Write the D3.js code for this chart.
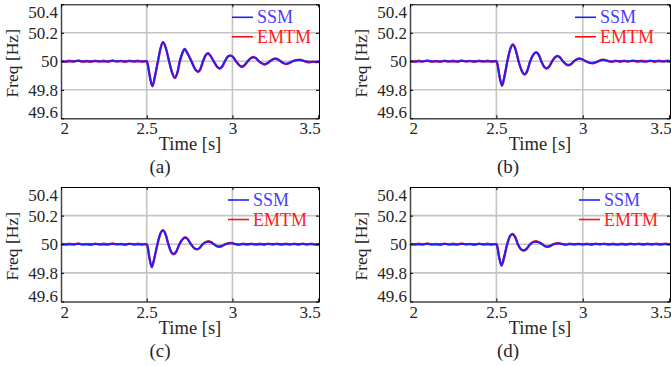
<!DOCTYPE html>
<html>
<head>
<meta charset="utf-8">
<script src="https://cdn.jsdelivr.net/npm/d3@7"></script>
<style>
  body { margin: 0; background: #fff; }
  svg text { font-family: "Liberation Serif", serif !important; }
</style>
</head>
<body>
<div id="chart"></div>
<script>
// ---- data ----
const xTicks = [2, 2.5, 3, 3.5]
const yTicks = [49.6, 49.8, 50, 50.2, 50.4]
const captions = ["(a)", "(b)", "(c)", "(d)"]
const seriesNames = ["SSM", "EMTM"]

// steady state before the event at 2.5 s (same in all four cases)
const ssmPre = [[2.0,50.001],[2.05,49.999],[2.1,50.002],[2.15,49.999],[2.2,50.001],[2.25,49.998],[2.3,50.002],[2.35,50.0],[2.4,50.001],[2.45,49.999]]
const emtmPre = [[2.0,50.004],[2.025,49.997],[2.05,50.005],[2.075,49.998],[2.1,50.006],[2.125,49.997],[2.15,50.003],[2.175,49.996],[2.2,50.005],[2.225,49.998],[2.25,50.004],[2.275,49.997],[2.3,50.006],[2.325,49.998],[2.35,50.003],[2.375,49.996],[2.4,50.005],[2.425,49.998],[2.45,50.004],[2.475,49.997]]

const ssmA = [[2.5,50.0],[2.505,49.985],[2.517,49.9],[2.533,49.828],[2.548,49.9],[2.565,50.0],[2.58,50.09],[2.595,50.135],[2.612,50.09],[2.63,50.0],[2.648,49.92],[2.663,49.886],[2.678,49.92],[2.692,50.0],[2.708,50.06],[2.721,50.088],[2.735,50.06],[2.76,50.0],[2.782,49.945],[2.798,49.928],[2.812,49.945],[2.827,50.0],[2.842,50.04],[2.856,50.057],[2.87,50.04],[2.89,50.0],[2.91,49.962],[2.924,49.952],[2.938,49.962],[2.955,50.0],[2.972,50.032],[2.987,50.041],[3.002,50.032],[3.02,50.0],[3.04,49.972],[3.054,49.964],[3.068,49.972],[3.088,50.0],[3.107,50.022],[3.122,50.029],[3.137,50.022],[3.154,50.0],[3.172,49.985],[3.186,49.98],[3.2,49.985],[3.218,50.0],[3.236,50.014],[3.25,50.018],[3.265,50.014],[3.28,50.0],[3.298,49.987],[3.312,49.983],[3.328,49.988],[3.35,50.0],[3.37,50.008],[3.39,50.01],[3.41,50.006],[3.44,49.998],[3.47,49.996],[3.51,50.0]]
const emtmA = [[2.5,50.003],[2.506,49.98],[2.518,49.895],[2.534,49.824],[2.549,49.897],[2.566,50.0],[2.581,50.092],[2.596,50.133],[2.613,50.088],[2.631,50.0],[2.649,49.918],[2.664,49.882],[2.679,49.918],[2.694,50.0],[2.709,50.058],[2.722,50.086],[2.737,50.06],[2.762,50.0],[2.784,49.943],[2.8,49.925],[2.814,49.944],[2.829,50.0],[2.844,50.042],[2.858,50.058],[2.872,50.04],[2.892,50.0],[2.912,49.96],[2.926,49.948],[2.94,49.96],[2.957,50.0],[2.974,50.034],[2.989,50.04],[3.004,50.03],[3.022,50.0],[3.042,49.97],[3.056,49.96],[3.07,49.97],[3.09,50.0],[3.109,50.024],[3.124,50.03],[3.139,50.02],[3.156,50.0],[3.174,49.984],[3.188,49.977],[3.202,49.984],[3.22,50.0],[3.238,50.016],[3.252,50.02],[3.267,50.012],[3.282,50.0],[3.3,49.986],[3.314,49.98],[3.33,49.986],[3.352,50.0],[3.372,50.009],[3.392,50.012],[3.412,50.004],[3.43,49.996],[3.45,49.992],[3.47,49.998],[3.49,49.994],[3.51,49.998]]

const ssmB = [[2.5,50.0],[2.506,49.985],[2.517,49.9],[2.532,49.832],[2.547,49.9],[2.563,50.0],[2.58,50.085],[2.595,50.116],[2.611,50.08],[2.628,50.0],[2.648,49.93],[2.662,49.91],[2.677,49.93],[2.695,50.0],[2.713,50.045],[2.729,50.061],[2.745,50.045],[2.76,50.0],[2.776,49.962],[2.79,49.952],[2.804,49.962],[2.822,50.0],[2.84,50.028],[2.853,50.035],[2.867,50.028],[2.885,50.0],[2.903,49.98],[2.916,49.975],[2.93,49.98],[2.948,50.0],[2.966,50.014],[2.981,50.018],[2.996,50.014],[3.018,50.0],[3.04,49.99],[3.054,49.988],[3.07,49.991],[3.09,50.0],[3.105,50.008],[3.12,50.01],[3.14,50.005],[3.17,49.998],[3.2,50.002],[3.25,50.0],[3.3,50.003],[3.35,49.999],[3.4,50.002],[3.45,50.0],[3.51,50.001]]
const emtmB = [[2.5,50.003],[2.506,49.98],[2.518,49.896],[2.533,49.828],[2.548,49.897],[2.564,50.0],[2.581,50.088],[2.596,50.118],[2.612,50.082],[2.629,50.0],[2.649,49.927],[2.663,49.906],[2.678,49.928],[2.696,50.0],[2.714,50.047],[2.73,50.064],[2.746,50.046],[2.761,50.0],[2.777,49.96],[2.791,49.949],[2.805,49.96],[2.823,50.0],[2.841,50.03],[2.854,50.038],[2.868,50.028],[2.886,50.0],[2.904,49.978],[2.917,49.972],[2.931,49.978],[2.949,50.0],[2.967,50.016],[2.982,50.021],[2.997,50.014],[3.019,50.0],[3.041,49.988],[3.055,49.985],[3.071,49.99],[3.091,50.0],[3.106,50.01],[3.121,50.012],[3.14,50.004],[3.165,49.996],[3.19,50.004],[3.215,49.997],[3.24,50.005],[3.265,49.998],[3.29,50.004],[3.315,49.997],[3.34,50.005],[3.365,49.998],[3.39,50.004],[3.415,49.996],[3.44,50.004],[3.465,49.998],[3.49,50.005],[3.51,50.0]]

const ssmC = [[2.5,50.0],[2.505,49.985],[2.515,49.91],[2.529,49.843],[2.545,49.91],[2.562,50.0],[2.58,50.075],[2.594,50.096],[2.609,50.07],[2.626,50.0],[2.643,49.945],[2.656,49.933],[2.67,49.945],[2.69,50.0],[2.71,50.036],[2.724,50.046],[2.738,50.036],[2.758,50.0],[2.778,49.972],[2.792,49.967],[2.806,49.972],[2.826,50.0],[2.846,50.015],[2.861,50.018],[2.875,50.014],[2.892,50.0],[2.91,49.987],[2.923,49.984],[2.937,49.988],[2.958,50.0],[2.976,50.006],[2.991,50.007],[3.01,50.004],[3.04,49.999],[3.08,50.001],[3.15,49.999],[3.2,50.001],[3.3,50.0],[3.4,50.001],[3.51,50.0]]
const emtmC = [[2.5,50.003],[2.506,49.98],[2.516,49.905],[2.53,49.839],[2.546,49.907],[2.563,50.0],[2.581,50.078],[2.595,50.099],[2.61,50.072],[2.627,50.0],[2.644,49.943],[2.657,49.93],[2.671,49.944],[2.691,50.0],[2.711,50.038],[2.725,50.049],[2.739,50.036],[2.759,50.0],[2.779,49.97],[2.793,49.964],[2.807,49.971],[2.827,50.0],[2.847,50.017],[2.862,50.021],[2.876,50.014],[2.893,50.0],[2.911,49.985],[2.924,49.981],[2.938,49.987],[2.959,50.0],[2.977,50.008],[2.992,50.01],[3.01,50.003],[3.035,49.996],[3.06,50.004],[3.085,49.997],[3.11,50.005],[3.135,49.998],[3.16,50.004],[3.185,49.996],[3.21,50.004],[3.235,49.998],[3.26,50.005],[3.285,49.997],[3.31,50.004],[3.335,49.998],[3.36,50.005],[3.385,49.997],[3.41,50.004],[3.435,49.998],[3.46,50.005],[3.485,49.997],[3.51,50.003]]

const ssmD = [[2.5,50.0],[2.505,49.986],[2.515,49.915],[2.529,49.853],[2.545,49.915],[2.562,50.0],[2.578,50.055],[2.592,50.07],[2.607,50.052],[2.624,50.0],[2.643,49.965],[2.657,49.958],[2.672,49.966],[2.695,50.0],[2.714,50.015],[2.729,50.018],[2.745,50.014],[2.765,50.0],[2.782,49.987],[2.796,49.984],[2.81,49.988],[2.83,50.0],[2.845,50.004],[2.859,50.005],[2.875,50.003],[2.9,49.999],[2.95,50.001],[3.0,50.0],[3.1,50.001],[3.2,49.999],[3.3,50.001],[3.4,50.0],[3.51,50.0]]
const emtmD = [[2.5,50.003],[2.506,49.981],[2.516,49.91],[2.53,49.849],[2.546,49.912],[2.563,50.0],[2.579,50.058],[2.593,50.073],[2.608,50.053],[2.625,50.0],[2.644,49.962],[2.658,49.955],[2.673,49.964],[2.696,50.0],[2.715,50.017],[2.73,50.021],[2.746,50.014],[2.766,50.0],[2.783,49.985],[2.797,49.981],[2.811,49.987],[2.831,50.0],[2.846,50.006],[2.86,50.008],[2.876,50.002],[2.9,49.996],[2.925,50.004],[2.95,49.997],[2.975,50.005],[3.0,49.998],[3.025,50.004],[3.05,49.996],[3.075,50.004],[3.1,49.998],[3.125,50.005],[3.15,49.997],[3.175,50.004],[3.2,49.998],[3.225,50.005],[3.25,49.997],[3.275,50.004],[3.3,49.998],[3.325,50.005],[3.35,49.997],[3.375,50.004],[3.4,49.998],[3.425,50.005],[3.45,49.997],[3.475,50.004],[3.51,49.999]]

const ssmSeries = [ssmA, ssmB, ssmC, ssmD]
const emtmSeries = [emtmA, emtmB, emtmC, emtmD]

// ---- layout ----
const panels = [
  {left: 61,  top: 4.3, width: 258, height: 114, capX: 160, legX: 171},
  {left: 410, top: 4.3, width: 260, height: 114, capX: 508, legX: 165},
  {left: 61,  top: 187, width: 258, height: 114.5, capX: 160, legX: 167},
  {left: 410, top: 187, width: 260, height: 114.5, capX: 508, legX: 169}
]
const colors = {SSM: "#1f1fff", EMTM: "#ff1010"}
const textColors = {SSM: "#4a3cff", EMTM: "#ff1a1a"}
const ink = "#262626"

const svg = d3.select("#chart")
  .append("svg")
    .attr("width", 671)
    .attr("height", 366)

panels.forEach(function(p, i){
  const x = d3.scaleLinear().domain([2, 3.505]).range([0, p.width])
  const y = d3.scaleLinear().domain([49.6, 50.4]).range([p.height, 0])

  const g = svg.append("g")
    .attr("transform", "translate(" + p.left + "," + p.top + ")")

  //grid
  g.selectAll(null)
    .data(yTicks.slice(1, -1))
    .enter()
    .append("line")
      .attr("x1", 0).attr("x2", p.width)
      .attr("y1", d => y(d)).attr("y2", d => y(d))
      .style("stroke", "#c4c4c4").style("stroke-width", 1.6)
  g.selectAll(null)
    .data(xTicks.slice(1, -1))
    .enter()
    .append("line")
      .attr("y1", 0).attr("y2", p.height)
      .attr("x1", d => x(d)).attr("x2", d => x(d))
      .style("stroke", "#c4c4c4").style("stroke-width", 1.6)

  //curves, EMTM under SSM
  const line = d3.line()
    .x(d => x(d[0]))
    .y(d => y(d[1]))
    .curve(d3.curveMonotoneX)
  g.append("path")
    .datum(emtmPre.concat(emtmSeries[i]))
    .attr("d", line)
    .style("fill", "none").style("stroke", colors.EMTM).style("stroke-width", 2.3)
  g.append("path")
    .datum(ssmPre.concat(ssmSeries[i]))
    .attr("d", line)
    .style("fill", "none").style("stroke", colors.SSM).style("stroke-width", 2)

  //axes with inward ticks
  const gx = g.append("g")
    .attr("transform", "translate(0," + p.height + ")")
    .call(d3.axisBottom(x).tickValues(xTicks).tickSize(-3).tickSizeOuter(0).tickPadding(4)
      .tickFormat(d => String(d)))
  gx.selectAll("text")
    .style("font-size", "17px").attr("fill", ink)
    .attr("text-anchor", (d, k) => k == 0 ? "start" : (k == xTicks.length - 1 ? "end" : "middle"))
    .attr("dx", (d, k) => k == 0 ? "-1" : (k == xTicks.length - 1 ? "2" : "0"))
  gx.select(".domain").style("stroke", "#444").style("stroke-width", 1.5)

  const gy = g.append("g")
    .call(d3.axisLeft(y).tickValues(yTicks).tickSize(-3).tickSizeOuter(0).tickPadding(3)
      .tickFormat(d => String(+d.toFixed(1))))
  gy.selectAll("text")
    .style("font-size", "17px").attr("fill", ink)
    .attr("dy", (d, k) => k == 0 ? "-0.02em" : (k == yTicks.length - 1 ? "0.8em" : "0.32em"))
  gy.select(".domain").style("stroke", "#444").style("stroke-width", 1.5)

  g.append("g")
    .call(d3.axisTop(x).tickValues(xTicks).tickSize(-3).tickSizeOuter(0).tickFormat(""))
    .select(".domain").style("stroke", "#000")
  g.append("g")
    .attr("transform", "translate(" + p.width + ",0)")
    .call(d3.axisRight(y).tickValues(yTicks).tickSize(-3).tickSizeOuter(0).tickFormat(""))
    .select(".domain").style("stroke", "#000")

  //labels
  g.append("text")
    .attr("x", p.width / 2)
    .attr("y", p.height + 32)
    .attr("text-anchor", "middle")
    .attr("fill", ink)
    .style("font-size", "18.5px")
    .text("Time [s]")
  g.append("text")
    .attr("transform", "translate(-43," + (p.height / 2 + 2) + ") rotate(-90)")
    .attr("text-anchor", "middle")
    .attr("fill", ink)
    .style("font-size", "17.5px")
    .text("Freq [Hz]")

  //legend
  seriesNames.forEach(function(name, k){
    const ly = 13 + k * 19.5
    g.append("line")
      .attr("x1", p.legX).attr("x2", p.legX + 21)
      .attr("y1", ly).attr("y2", ly)
      .style("stroke", colors[name]).style("stroke-width", 1.6)
    g.append("text")
      .attr("x", p.legX + 25)
      .attr("y", ly + 6.2)
      .attr("fill", textColors[name])
      .style("font-size", "18px")
      .text(name)
  })

  svg.append("text")
    .attr("x", p.capX)
    .attr("y", p.top + p.height + 55)
    .attr("text-anchor", "middle")
    .attr("fill", ink)
    .style("font-size", "19px")
    .text(captions[i])
})
</script>
</body>
</html>
